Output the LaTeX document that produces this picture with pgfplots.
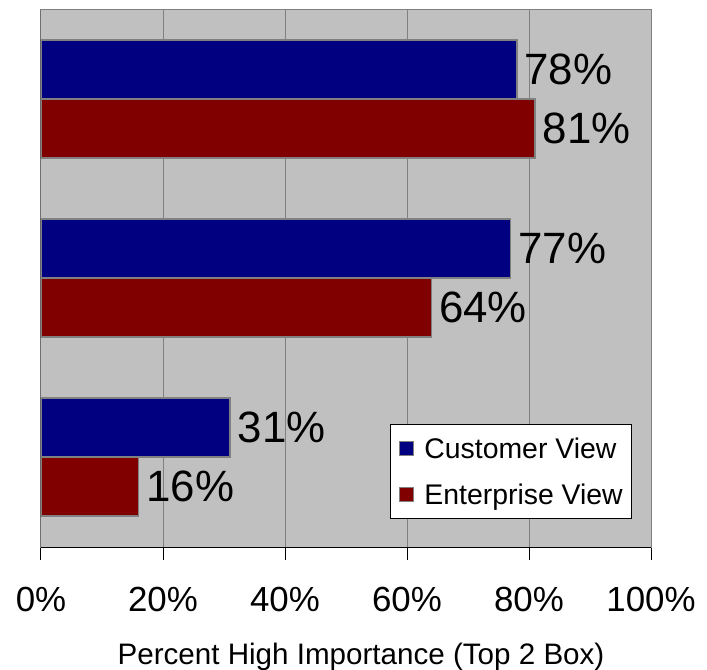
\documentclass[border=0pt]{standalone}
\usepackage{pgfplots}
\pgfplotsset{compat=1.18}
\usepackage{fontspec}
\setmainfont{Liberation Sans}
\definecolor{plotbg}{HTML}{C0C0C0}
\definecolor{gridc}{HTML}{808080}
\definecolor{cblue}{HTML}{000080}
\definecolor{cred}{HTML}{800000}
\begin{document}
\begin{tikzpicture}
\begin{axis}[
  name=ax,
  scale only axis,
  width=610bp, height=537bp,
  xmin=0, xmax=100, ymin=-0.5, ymax=2.5,
  xbar, bar width=0.33,
  /pgf/number format/assume math mode=true,
  axis background/.style={fill=plotbg},
  axis line style={draw=gridc, line width=1bp},
  xtick={0,20,40,60,80,100},
  xticklabels={0\%,20\%,40\%,60\%,80\%,100\%},
  ytick=\empty,
  xtick pos=bottom,
  tick align=outside,
  major tick length=13bp,
  xtick style={black, line width=1bp},
  xmajorgrids,
  grid style={gridc, line width=1bp},
  xticklabel style={font=\fontsize{35}{35}\selectfont, yshift=-24bp},
  xlabel={Percent High Importance (Top 2 Box)},
  xlabel style={font=\fontsize{29.7}{30}\selectfont, yshift=-24bp, xshift=15bp},
  nodes near coords={\pgfmathprintnumber{\pgfplotspointmeta}\%},
  point meta=x,
  every node near coord/.append style={font=\fontsize{44}{44}\selectfont, anchor=west, inner xsep=7bp, black},
  legend cell align=left,
  legend style={at={(0.572,0.229)}, anchor=north west, draw=black, fill=white, line width=1bp,
    font=\fontsize{28.5}{30}\selectfont, inner xsep=7bp, inner ysep=11bp, row sep=20bp},
  legend image code/.code={\draw[#1, draw=gridc, line width=1.5bp] (2bp,-7bp) rectangle (16bp,7bp); \path[draw=none, fill=none] (0bp,0bp) -- (25bp,0bp);},
]
\addplot[fill=cblue, draw=gridc, line width=1.5bp, bar shift=0.167] coordinates {(78,2) (77,1) (31,0)};
\addplot[fill=cred, draw=gridc, line width=1.5bp, bar shift=-0.163] coordinates {(81,2) (64,1) (16,0)};
\legend{Customer View, Enterprise View}
\draw[black, line width=1bp] (rel axis cs:0,0) -- (rel axis cs:1,0);
\draw[black, line width=1bp] (rel axis cs:0,0) -- (rel axis cs:0,1);
\end{axis}
\pgfresetboundingbox
\path ([xshift=-41bp,yshift=-123bp]ax.south west) rectangle ([xshift=56bp,yshift=10bp]ax.north east);
\end{tikzpicture}
\end{document}
